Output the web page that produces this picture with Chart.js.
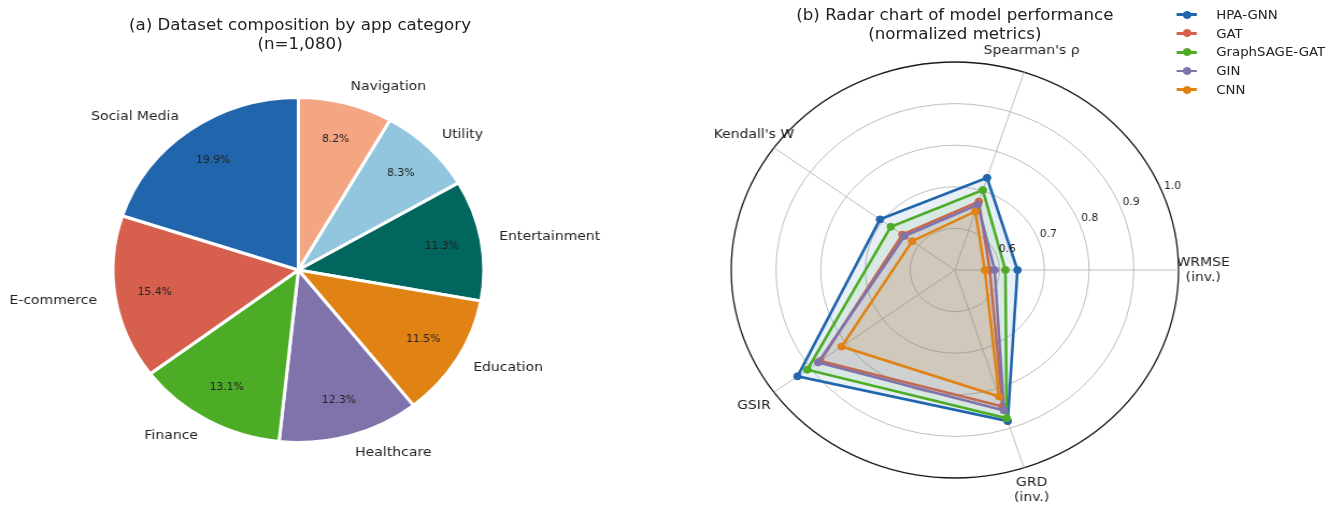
<!DOCTYPE html>
<html>
<head>
<meta charset="utf-8">
<script src="https://cdn.jsdelivr.net/npm/chart.js@4.4.1/dist/chart.umd.min.js"></script>
<style>
    html, body { margin: 0; padding: 0; background: #fff; overflow: hidden; }
    #stage {
        position: relative;
        width: 1248px;
        height: 506px;
        transform: scaleX(1.0753);
        transform-origin: 0 0;
        font-family: "DejaVu Sans", sans-serif;
        color: #222;
    }
    #stage canvas { position: absolute; top: 0; }
    .title {
        position: absolute;
        text-align: center;
        font-size: 15.5px;
        line-height: 18.5px;
        white-space: nowrap;
    }
    #legend {
        position: absolute;
        left: 1094px;
        top: 5px;
        font-size: 12.4px;
    }
    .legend-row { display: flex; align-items: center; height: 18.8px; }
    .swatch { position: relative; width: 19px; height: 10px; margin-right: 18px; }
    .swatch .ln { position: absolute; left: 0; right: 0; top: 3.8px; height: 2.8px; }
    .swatch .dot { position: absolute; left: 5.5px; top: 1.2px; width: 8px; height: 8px; border-radius: 50%; }
</style>
</head>
<body>
<div id="stage">
    <canvas id="pieChart" width="560" height="506" style="left:0"></canvas>
    <canvas id="radarChart" width="688" height="506" style="left:560px"></canvas>
    <div class="title" style="left:79px;width:400px;top:16px">(a) Dataset composition by app category<br>(n=1,080)</div>
    <div class="title" style="left:688px;width:400px;top:6px">(b) Radar chart of model performance<br>(normalized metrics)</div>
    <div id="legend"></div>
</div>
<script>
// app categories, listed clockwise from the top
const categories = ['Navigation', 'Utility', 'Entertainment', 'Education', 'Healthcare', 'Finance', 'E-commerce', 'Social Media'];
const categoryCounts = [89, 90, 122, 124, 133, 141, 166, 215];
const categoryColors = ['#f4a582', '#92c5de', '#01665e', '#e08214', '#8073ac', '#4dac26', '#d6604d', '#2166ac'];

// radar axes, clockwise from the right
const metrics = [['WRMSE', '(inv.)'], ['GRD', '(inv.)'], ['GSIR'], ["Kendall's W"], ["Spearman's ρ"]];
const models = ['HPA-GNN', 'GAT', 'GraphSAGE-GAT', 'GIN', 'CNN'];
const modelColors = ['#2166ac', '#d6604d', '#4dac26', '#8073ac', '#e08214'];
const hpaGnn = [0.640, 0.882, 0.935, 0.707, 0.733];
const gat = [0.578, 0.845, 0.872, 0.645, 0.673];
const graphSageGat = [0.613, 0.875, 0.908, 0.677, 0.702];
const gin = [0.589, 0.855, 0.878, 0.639, 0.665];
const cnn = [0.567, 0.820, 0.813, 0.618, 0.648];
const modelScores = [hpaGnn, gat, graphSageGat, gin, cnn];
const radialTicks = [0.6, 0.7, 0.8, 0.9, 1.0];

const textColor = '#222';
Chart.defaults.font.family = '"DejaVu Sans", sans-serif';
Chart.defaults.color = textColor;

function hexToRgba(hex, a) {
    const n = parseInt(hex.slice(1), 16);
    return `rgba(${(n >> 16) & 255}, ${(n >> 8) & 255}, ${n & 255}, ${a})`;
}

// category names outside the pie, percentages inside
const pieLabels = {
    id: 'pieLabels',
    afterDatasetsDraw(chart) {
        const ctx = chart.ctx;
        const total = categoryCounts.reduce((a, b) => a + b, 0);
        const arcs = chart.getDatasetMeta(0).data;
        ctx.save();
        ctx.fillStyle = textColor;
        ctx.textBaseline = 'middle';
        arcs.forEach((arc, i) => {
            const { x, y, startAngle, endAngle, outerRadius } = arc.getProps(['x', 'y', 'startAngle', 'endAngle', 'outerRadius'], true);
            const mid = (startAngle + endAngle) / 2;
            const cx = Math.cos(mid), cy = Math.sin(mid);

            ctx.font = '13px "DejaVu Sans", sans-serif';
            ctx.textAlign = cx > 0 ? 'left' : 'right';
            ctx.fillText(categories[i], x + cx * outerRadius * 1.1, y + cy * outerRadius * 1.1);

            ctx.font = '10px "DejaVu Sans", sans-serif';
            ctx.textAlign = 'center';
            const pct = (categoryCounts[i] / total * 100).toFixed(1) + '%';
            ctx.fillText(pct, x + cx * outerRadius * 0.785, y + cy * outerRadius * 0.785);
        });
        ctx.restore();
    }
};

new Chart(document.getElementById('pieChart').getContext('2d'), {
    type: 'pie',
    data: {
        labels: categories,
        datasets: [{
            data: categoryCounts,
            backgroundColor: categoryColors,
            borderColor: '#ffffff',
            borderWidth: 3,
            hoverOffset: 0,
            radius: 172.5
        }]
    },
    options: {
        responsive: false,
        animation: false,
        layout: { padding: { left: 60, right: 65, top: 80, bottom: 46 } },
        plugins: { legend: { display: false }, tooltip: { enabled: false } }
    },
    plugins: [pieLabels]
});

// axis names and radial tick labels for the radar
const radarLabels = {
    id: 'radarLabels',
    afterDraw(chart) {
        const scale = chart.scales.r;
        const ctx = chart.ctx;
        ctx.save();
        ctx.fillStyle = textColor;
        ctx.textAlign = 'center';
        ctx.textBaseline = 'middle';

        ctx.font = '13px "DejaVu Sans", sans-serif';
        metrics.forEach((lines, i) => {
            const p = scale.getPointPosition(i, scale.drawingArea + 23);
            const lh = 15;
            lines.forEach((t, k) => {
                ctx.fillText(t, p.x, p.y + (k - (lines.length - 1) / 2) * lh);
            });
        });

        ctx.font = '10px "DejaVu Sans", sans-serif';
        const a = 22.5 * Math.PI / 180;
        radialTicks.forEach(v => {
            const d = scale.getDistanceFromCenterForValue(v) + 11;
            ctx.fillText(v.toFixed(1), scale.xCenter + Math.cos(a) * d, scale.yCenter - Math.sin(a) * d);
        });
        ctx.restore();
    }
};

new Chart(document.getElementById('radarChart').getContext('2d'), {
    type: 'radar',
    data: {
        labels: metrics.map(m => m.join(' ')),
        datasets: models.map((name, i) => ({
            label: name,
            data: modelScores[i],
            borderColor: modelColors[i],
            backgroundColor: hexToRgba(modelColors[i], 0.1),
            pointBackgroundColor: modelColors[i],
            pointBorderColor: modelColors[i],
            pointRadius: 3.5,
            pointBorderWidth: 1,
            borderWidth: 2.6,
            fill: true,
            order: models.length - 1 - i
        }))
    },
    options: {
        responsive: false,
        animation: false,
        layout: { padding: { left: 120, right: 152, top: 62, bottom: 28 } },
        scales: {
            r: {
                min: 0.5,
                max: 1.0,
                startAngle: 90,
                ticks: { display: false, stepSize: 0.1 },
                pointLabels: { display: false },
                grid: {
                    circular: true,
                    color: ctx => ctx.tick && ctx.tick.value > 0.99 ? '#1a1a1a' : '#bdbdbd',
                    lineWidth: ctx => ctx.tick && ctx.tick.value > 0.99 ? 1.3 : 1
                },
                angleLines: { color: '#bdbdbd', lineWidth: 1 }
            }
        },
        plugins: { legend: { display: false }, tooltip: { enabled: false } }
    },
    plugins: [radarLabels]
});

// legend for the radar series
const legend = document.getElementById('legend');
models.forEach((name, i) => {
    const row = document.createElement('div');
    row.className = 'legend-row';
    row.innerHTML = `<div class="swatch"><div class="ln" style="background:${modelColors[i]}"></div>` +
        `<div class="dot" style="background:${modelColors[i]}"></div></div><span>${name}</span>`;
    legend.appendChild(row);
});
</script>
</body>
</html>
